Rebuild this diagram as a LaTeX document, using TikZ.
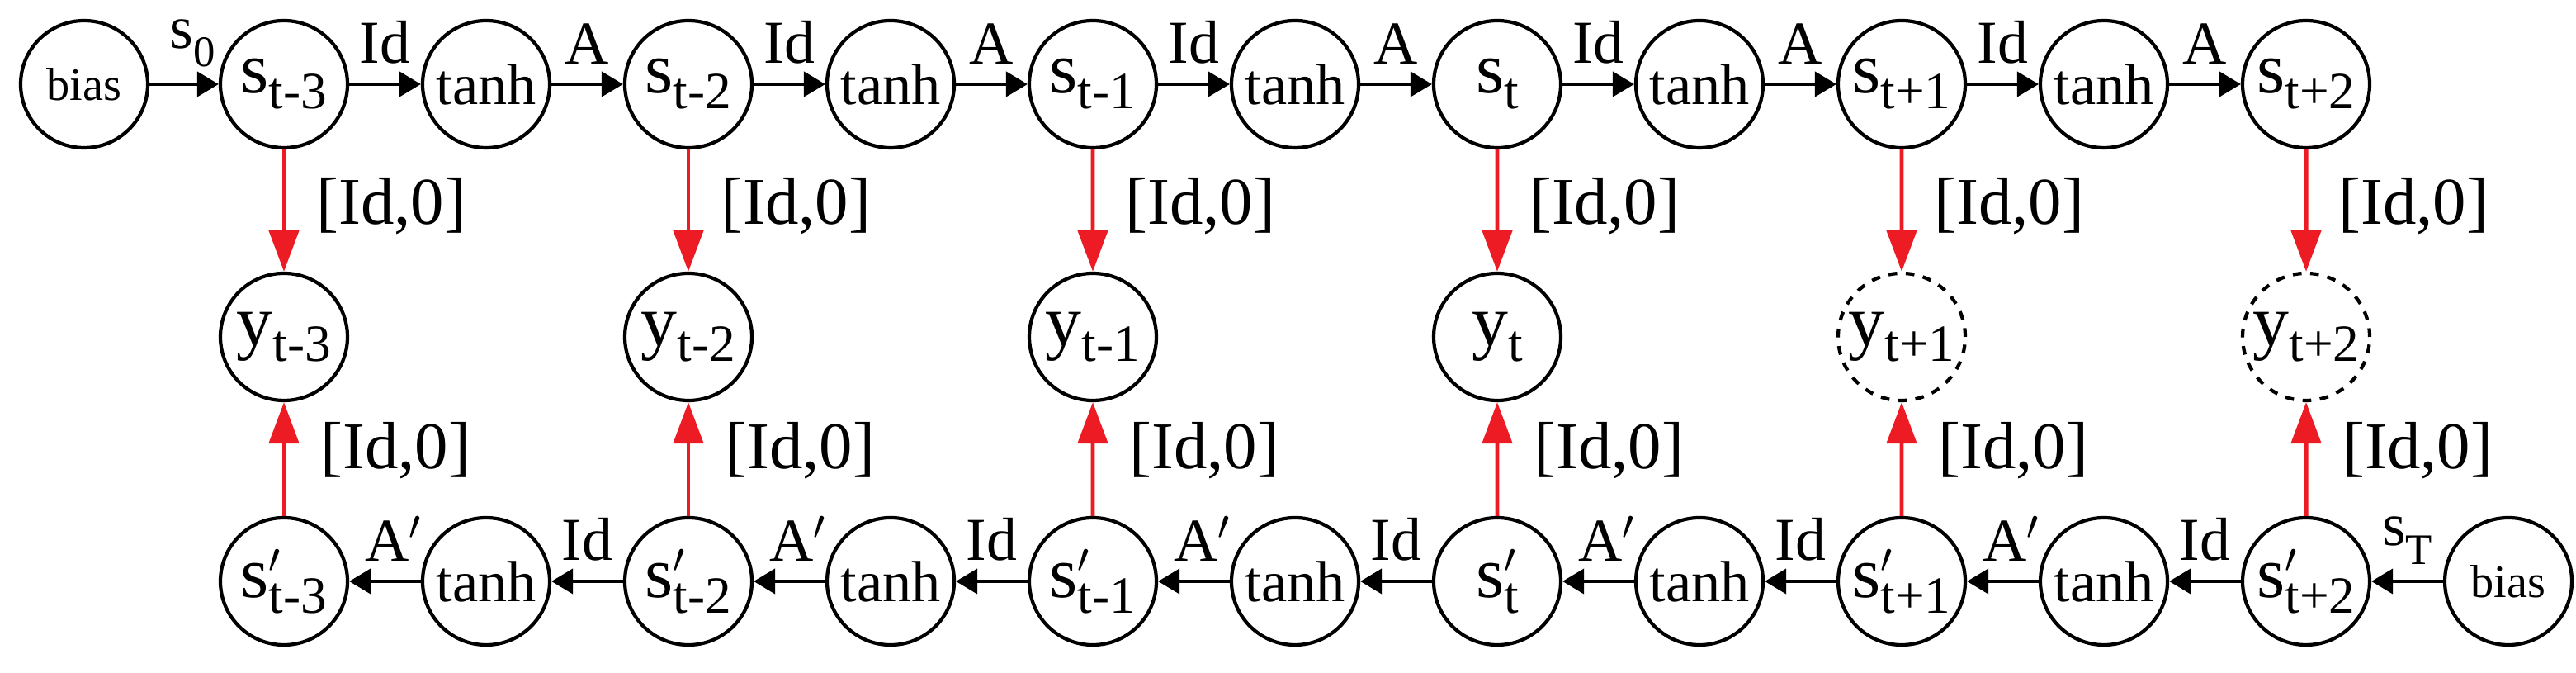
\documentclass[tikz,border=0pt]{standalone}
\usepackage{fontspec}
\setmainfont{Liberation Serif}
\usetikzlibrary{arrows.meta}
\definecolor{rd}{RGB}{237,28,36}
\newcommand{\bg}[2]{{\fontsize{25}{25}\selectfont #1}{\fontsize{18}{18}\selectfont\raisebox{-0.3em}{#2}}}
\newcommand{\bgp}[2]{{\fontsize{25}{25}\selectfont #1}\makebox[0pt][l]{\fontsize{21}{21}\selectfont\raisebox{0.05em}{$'$}}{\fontsize{18}{18}\selectfont\raisebox{-0.3em}{#2}}}
\tikzset{
 cn/.style={circle,draw,line width=1.2pt,minimum size=1.54cm,inner sep=0pt},
 dn/.style={cn,dashed},
 bk/.style={line width=1.2pt,-{Triangle[length=0.26cm,width=0.3cm]}},
 ra/.style={line width=1.4pt,rd,-{Triangle[length=0.5cm,width=0.36cm]}},
 lb/.style={text=black,font=\fontsize{21}{21}\selectfont},
 lbb/.style={text=black,font=\fontsize{23}{23}\selectfont}
}
\begin{document}
\begin{tikzpicture}
\useasboundingbox (0,0) rectangle (31.21,8.15);
\node[cn,font=\fontsize{16}{16}\selectfont] (tb) at (1.02,7.13) {bias};
\node[cn,font=\fontsize{16}{16}\selectfont] (bb) at (30.39,1.11) {bias};
\foreach \i/\s in {0/t-3,1/t-2,2/t-1,3/t,4/t+1,5/t+2}{
  \pgfmathsetmacro\xs{3.44+4.9*\i}
  \pgfmathsetmacro\xt{3.44+4.9*\i+2.45}
  \node[cn] (s\i) at (\xs,7.13) {\bg{s}{\s}};
  \node[cn] (p\i) at (\xs,1.11) {\bgp{s}{\s}};
  \ifnum\i<5
    \node[cn,font=\fontsize{20}{20}\selectfont] (t\i) at (\xt,7.13) {tanh};
    \node[cn,font=\fontsize{20}{20}\selectfont] (u\i) at (\xt,1.11) {tanh};
  \fi
}
\node[cn] (y0) at (3.44,4.07) {\bg{y}{t-3}};
\node[cn] (y1) at (8.34,4.07) {\bg{y}{t-2}};
\node[cn] (y2) at (13.24,4.07) {\bg{y}{t-1}};
\node[cn] (y3) at (18.14,4.07) {\bg{y}{t}};
\node[dn] (y4) at (23.04,4.07) {\bg{y}{t+1}};
\node[dn] (y5) at (27.94,4.07) {\bg{y}{t+2}};
\draw[bk] (tb) -- node[lb,above=2pt,xshift=0.1cm]{s\raisebox{-0.3em}{\fontsize{15}{15}\selectfont 0}} (s0);
\foreach \i in {0,...,4}{
  \pgfmathtruncatemacro\j{\i+1}
  \draw[bk] (s\i) -- node[lb,above=3pt]{Id} (t\i);
  \draw[bk] (t\i) -- node[lb,above=3pt]{A} (s\j);
  \draw[bk] (u\i) -- node[lb,above=3pt,xshift=0.1cm]{A$'$} (p\i);
  \draw[bk] (p\j) -- node[lb,above=3pt]{Id} (u\i);
}
\draw[bk] (bb) -- node[lb,above=2pt]{s\raisebox{-0.3em}{\fontsize{15}{15}\selectfont T}} (p5);
\foreach \i in {0,...,5}{
  \draw[ra] (s\i) -- node[lbb,right=0.25cm,yshift=0.05cm]{[Id,0]} (y\i);
  \draw[ra] (p\i) -- node[lbb,right=0.3cm,yshift=0.1cm]{[Id,0]} (y\i);
}
\end{tikzpicture}
\end{document}
